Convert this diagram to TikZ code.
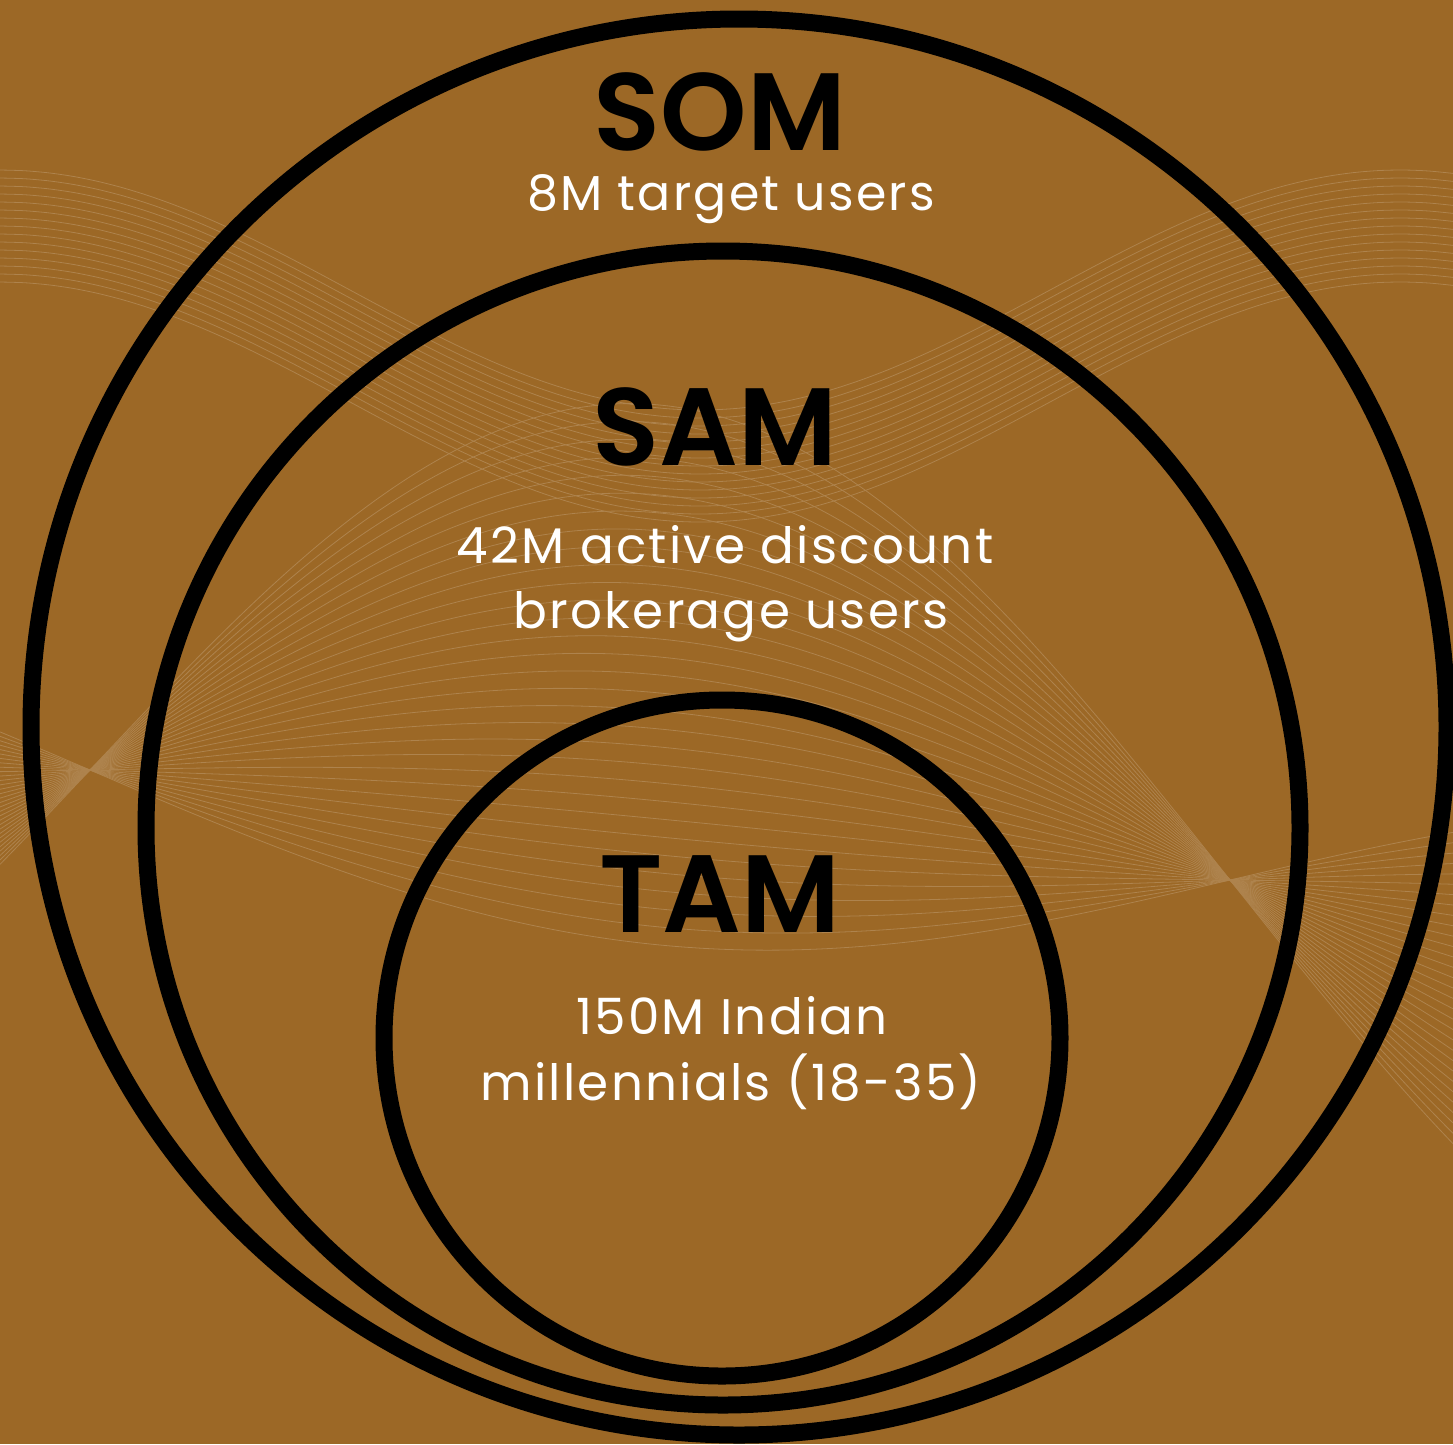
\documentclass[tikz,border=0pt]{standalone}
\usepackage{fontspec}
\setmainfont{Poppins}
\newfontfamily\semibold{Poppins SemiBold}
\definecolor{bgbrown}{RGB}{156,104,38}
\colorlet{wavecol}{bgbrown!82!white}

\begin{document}
\begin{tikzpicture}[x=1pt,y=-1pt,
  ring/.style={draw=black,line width=17pt},
  headline/.style={font=\fontsize{110}{110}\selectfont\semibold,text=black,anchor=base,inner sep=0pt,
    text height=80pt,text depth=0pt},
  subline/.style={font=\fontsize{50}{50}\selectfont\addfontfeatures{LetterSpace=4.5},text=white,anchor=base,inner sep=0pt,
    text height=37pt,text depth=11pt},
  subsmall/.style={subline,font=\fontsize{49}{49}\selectfont\addfontfeatures{LetterSpace=4.5}},
  wave/.style={draw=wavecol,line width=0.8pt}]

  \useasboundingbox (0,0) rectangle (1453,1444);
  \fill[bgbrown] (0,0) rectangle (1453,1444);
  \clip (0,0) rectangle (1453,1444);

  % faint wave lines in the background
  \foreach \k in {0,...,30} {
    \draw[wave] plot[domain=0:1453,samples=90,smooth]
      (\x,{770+0.0965*(\x-90)+(-420+18*\k)*sin((\x-90)/1140*180)});
  }
  \foreach \k in {0,...,14} {
    \draw[wave] plot[domain=0:1453,samples=60,smooth]
      (\x,{290+8*\k-120*cos(\x/700*180)});
  }

  % the three rings
  \draw[ring] (739,727) circle[radius=708];
  \draw[ring] (723,828) circle[radius=577];
  \draw[ring] (722,1038) circle[radius=338];

  % SOM
  \node[headline] (som) at (720,150) {SOM};
  \node[subsmall] (somtext) at (731,210) {8M target users};

  % SAM
  \node[headline] (sam) at (715,465) {SAM};
  \node[subline] (samtext1) at (725,563) {42M active discount};
  \node[subline] (samtext2) at (731,628) {brokerage users};

  % TAM
  \node[headline] (tam) at (720,932) {TAM};
  \node[subline] (tamtext1) at (732,1034) {150M Indian};
  \node[subline] (tamtext2) at (731,1100) {millennials (18-35)};
\end{tikzpicture}
\end{document}
